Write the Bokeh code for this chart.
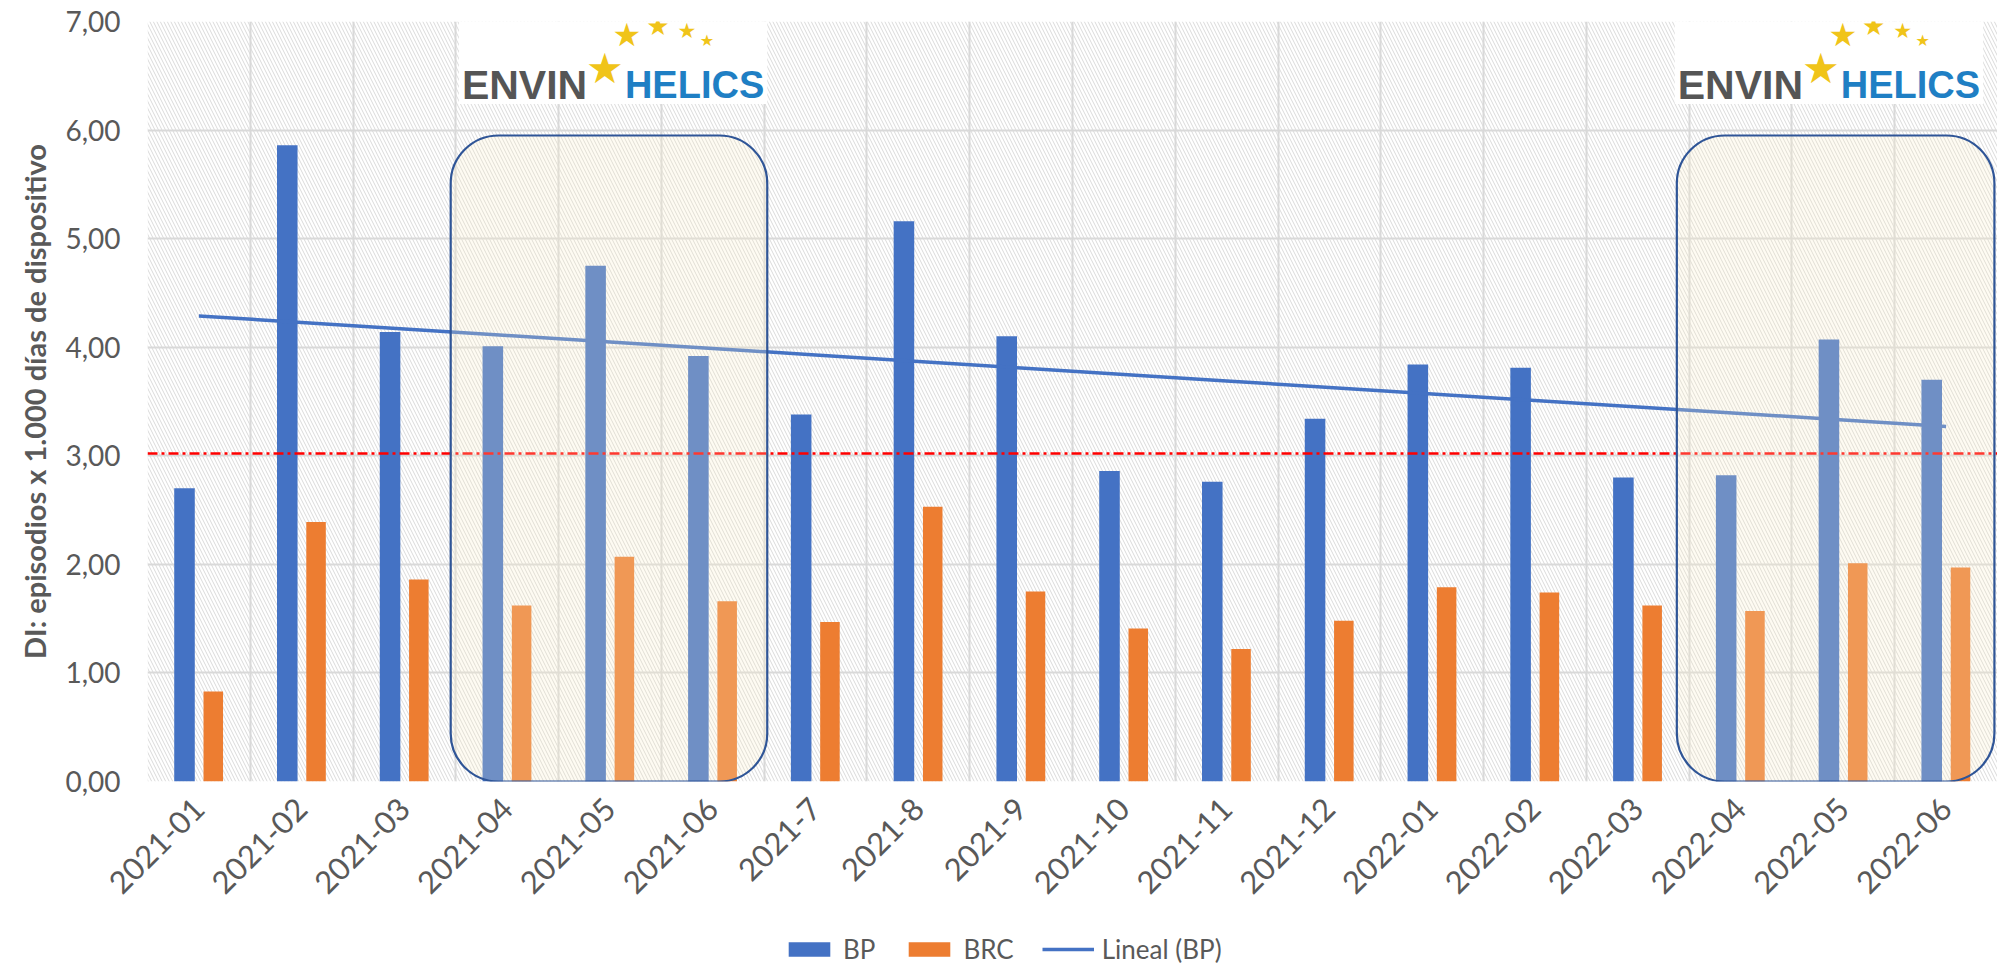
import numpy as np
from bokeh.plotting import figure
from bokeh.layouts import column
from bokeh.models import (Range1d, FixedTicker, BoxAnnotation, Span, Label,
                          Legend, LegendItem)
from bokeh.embed import file_html
from bokeh.resources import INLINE

# ---------------- data ----------------
categories = ["2021-01", "2021-02", "2021-03", "2021-04", "2021-05", "2021-06",
              "2021-7", "2021-8", "2021-9", "2021-10", "2021-11", "2021-12",
              "2022-01", "2022-02", "2022-03", "2022-04", "2022-05", "2022-06"]
bp = [2.70, 5.86, 4.14, 4.01, 4.75, 3.92, 3.38, 5.16, 4.10, 2.86, 2.76, 3.34,
      3.84, 3.81, 2.80, 2.82, 4.07, 3.70]
brc = [0.83, 2.39, 1.86, 1.62, 2.07, 1.66, 1.47, 2.53, 1.75, 1.41, 1.22, 1.48,
       1.79, 1.74, 1.62, 1.57, 2.01, 1.97]
reference_level = 3.02
y_ticks = [0, 1, 2, 3, 4, 5, 6, 7]
y_tick_labels = ["0,00", "1,00", "2,00", "3,00", "4,00", "5,00", "6,00", "7,00"]
series_names = ["BP", "BRC", "Lineal (BP)"]
y_title = "DI: episodios x 1.000 días de dispositivo"
highlight_periods = [("2021-04", "2021-06"), ("2022-04", "2022-06")]

# ---------------- style ----------------
FONT = "Lato"
TXT = "#595959"
GRID = "#d9d9d9"
BLUE = "#4472C4"
ORANGE = "#ED7D31"

n = len(categories)
centers = np.arange(n) + 0.5
x_bp = centers - 0.14
x_brc = centers + 0.14

p = figure(width=1997, height=910, output_backend="svg", toolbar_location=None,
           x_range=Range1d(0, n), y_range=Range1d(0, 7),
           min_border_left=147, min_border_right=0, min_border_top=21,
           min_border_bottom=129)
p.outline_line_color = None
p.background_fill_color = "white"

# hatched plot background
p.add_layout(BoxAnnotation(fill_color="white", fill_alpha=0, line_color=None,
                           hatch_pattern="\\", hatch_color="#dadada",
                           hatch_scale=7, hatch_weight=1, hatch_alpha=1,
                           level="image"))

# grids
p.xgrid.ticker = FixedTicker(ticks=list(range(n + 1)))
p.ygrid.ticker = FixedTicker(ticks=y_ticks)
for g in (p.xgrid, p.ygrid):
    g.grid_line_color = GRID
    g.grid_line_width = 2

# axes
p.xaxis.ticker = FixedTicker(ticks=list(centers))
p.xaxis.major_label_overrides = {float(c): lab for c, lab in zip(centers, categories)}
p.xaxis.major_label_orientation = np.pi / 4
p.yaxis.ticker = FixedTicker(ticks=y_ticks)
p.yaxis.major_label_overrides = {t: lab for t, lab in zip(y_ticks, y_tick_labels)}
for ax in (p.xaxis, p.yaxis):
    ax.axis_line_color = None
    ax.major_tick_line_color = None
    ax.minor_tick_line_color = None
    ax.major_tick_out = 0
    ax.major_tick_in = 0
    ax.major_label_text_font = FONT
    ax.major_label_text_color = TXT
    ax.major_label_text_font_size = "28px"
p.xaxis.major_label_text_font_size = "31px"
p.xaxis.major_label_standoff = 22
p.yaxis.major_label_standoff = 27
p.yaxis.axis_label = y_title
p.yaxis.axis_label_text_font = FONT
p.yaxis.axis_label_text_font_style = "bold"
p.yaxis.axis_label_text_font_size = "29px"
p.yaxis.axis_label_text_color = TXT
p.yaxis.axis_label_standoff = 10

# logos (white panels with the ENVIN-HELICS mark)
logo_spans = [(3.03, 6.03), (14.86, 17.86)]
for left, right in logo_spans:
    p.add_layout(BoxAnnotation(left=left, right=right, bottom=6.24, top=7,
                               fill_color="white", fill_alpha=1, line_color=None,
                               level="annotation"))
    p.add_layout(Label(x=left, y=7, x_offset=3, y_offset=-63, text="ENVIN",
                       text_font="Liberation Sans", text_font_style="bold",
                       text_font_size="41px", text_color="#555555",
                       text_baseline="alphabetic"))
    p.add_layout(Label(x=left, y=7, x_offset=166, y_offset=-63, text="HELICS",
                       text_font="Liberation Sans", text_font_style="bold",
                       text_font_size="38px", text_color="#1f7fc4",
                       text_baseline="alphabetic"))
    for dx, dy, sz in [(146, -47, 42), (168, -13, 32), (199, -4, 26),
                       (228, -9, 21), (248, -19, 16)]:
        p.add_layout(Label(x=left, y=7, x_offset=dx, y_offset=dy, text="★",
                           text_font="DejaVu Sans", text_font_size=f"{sz}px",
                           text_color="#f0c419", text_align="center",
                           text_baseline="middle"))

# bars
r_bp = p.vbar(x=x_bp, top=bp, width=0.2, fill_color=BLUE, line_color=None)
r_brc = p.vbar(x=x_brc, top=brc, width=0.19, fill_color=ORANGE, line_color=None)

# linear trend of BP
coef = np.polyfit(np.arange(1, n + 1), bp, 1)
trend = np.polyval(coef, np.arange(1, n + 1))
r_tr = p.line(x=centers, y=trend, line_color=BLUE, line_width=3.5)

# reference level
p.add_layout(Span(location=reference_level, dimension="width", line_color="red",
                  line_width=2.5, line_dash="10 4 3 4"))

# highlighted periods
box_pad = [(-0.05, 0.03), (-0.12, -0.03)]
for (a, b), (pl, pr) in zip(highlight_periods, box_pad):
    i0, i1 = categories.index(a), categories.index(b)
    p.add_layout(BoxAnnotation(left=i0 + pl, right=i1 + 1 + pr, bottom=0, top=5.95,
                               fill_color="#faedc8", fill_alpha=0.24,
                               line_color="#2f5597", line_alpha=1, line_width=2.2,
                               border_radius=48, level="annotation"))

# ---------------- legend strip ----------------
lf = figure(width=1997, height=63, output_backend="svg", toolbar_location=None,
            x_range=Range1d(0, 1), y_range=Range1d(0, 1),
            x_axis_type=None, y_axis_type=None,
            min_border_left=147, min_border_right=0, min_border_top=0,
            min_border_bottom=0)
lf.outline_line_color = None
lf.background_fill_color = "white"
lf.border_fill_color = "white"
# zero-size proxy glyphs: only their legend swatches are visible
l_bp = lf.vbar(x=[0.5], top=[0], bottom=[0], width=0, fill_color=BLUE, line_color=None)
l_brc = lf.vbar(x=[0.5], top=[0], bottom=[0], width=0, fill_color=ORANGE, line_color=None)
l_tr = lf.line(x=[0.5, 0.5], y=[0.5, 0.5], line_color=BLUE, line_width=3.5)
legend = Legend(items=[LegendItem(label=series_names[0], renderers=[l_bp]),
                       LegendItem(label=series_names[1], renderers=[l_brc]),
                       LegendItem(label=series_names[2], renderers=[l_tr])],
                orientation="horizontal", location=(636, 8),
                glyph_width=52, glyph_height=18, label_standoff=8, spacing=28,
                padding=0, margin=0, border_line_color=None,
                background_fill_alpha=0, label_text_font=FONT,
                label_text_font_size="26px", label_text_color=TXT)
lf.add_layout(legend, "center")

open("out.html", "w").write(file_html(column(p, lf, spacing=0), INLINE))
